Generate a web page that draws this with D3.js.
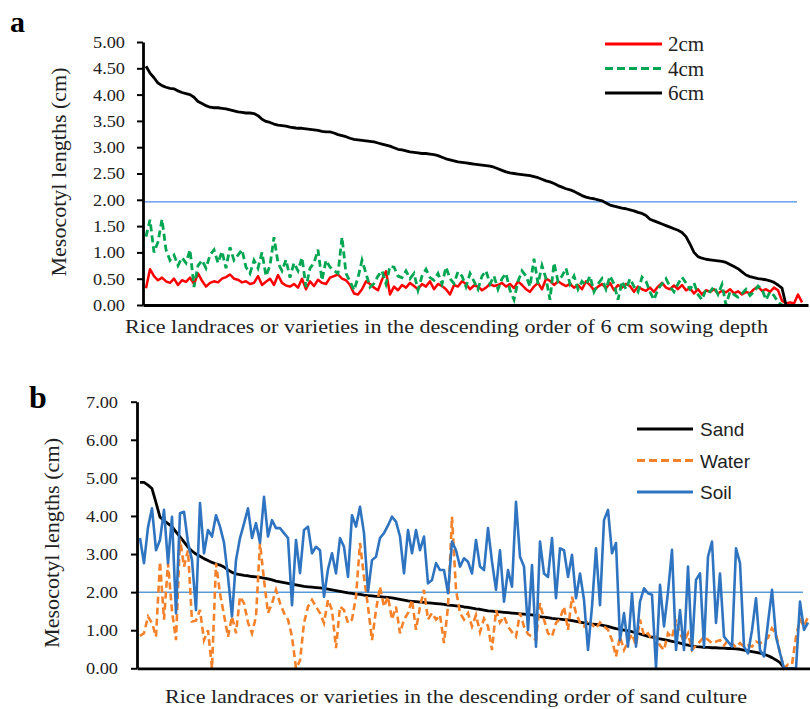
<!DOCTYPE html>
<html><head><meta charset="utf-8">
<script src="https://cdn.jsdelivr.net/npm/d3@7"></script>
<style>body{margin:0;background:#fff}svg{display:block}</style>
</head><body>
<svg id="c" width="810" height="709"></svg>
<script>
// ---------- Panel a data ----------
const seriesA = ["2cm", "4cm", "6cm"];
const yTicksA = [0, 0.5, 1, 1.5, 2, 2.5, 3, 3.5, 4, 4.5, 5];
const refA = 1.96;
const a2cm = [0.32,0.68,0.55,0.47,0.52,0.45,0.42,0.50,0.38,0.47,0.44,0.52,0.40,0.60,0.46,0.35,0.42,0.45,0.43,0.50,
0.53,0.58,0.50,0.48,0.43,0.45,0.40,0.42,0.55,0.38,0.44,0.50,0.38,0.57,0.42,0.37,0.35,0.40,0.33,0.50,
0.30,0.45,0.36,0.48,0.42,0.40,0.52,0.55,0.58,0.50,0.47,0.38,0.22,0.20,0.30,0.45,0.40,0.33,0.28,0.48,
0.64,0.20,0.35,0.28,0.38,0.33,0.42,0.36,0.30,0.40,0.35,0.45,0.30,0.40,0.36,0.30,0.20,0.38,0.35,0.45,
0.40,0.30,0.37,0.35,0.28,0.33,0.40,0.36,0.38,0.42,0.35,0.40,0.32,0.45,0.38,0.30,0.25,0.35,0.42,0.30,
0.50,0.46,0.38,0.45,0.40,0.36,0.40,0.33,0.38,0.30,0.45,0.38,0.28,0.35,0.40,0.32,0.42,0.28,0.38,0.33,
0.40,0.36,0.25,0.35,0.30,0.27,0.33,0.25,0.35,0.42,0.33,0.30,0.37,0.30,0.38,0.28,0.32,0.22,0.30,0.20,
0.28,0.25,0.30,0.22,0.27,0.24,0.30,0.22,0.26,0.20,0.25,0.22,0.30,0.35,0.27,0.30,0.25,0.33,0.28,0.08,
0.03,0.05,0.03,0.20,0.05];
const a4cm = [1.30,1.62,1.00,1.20,1.63,1.05,0.85,0.95,0.75,0.90,0.80,1.05,0.34,0.75,0.85,0.70,0.95,1.05,0.80,1.02,
0.70,1.10,0.85,0.95,1.05,0.72,0.60,0.85,0.70,1.00,0.55,0.75,1.29,0.80,0.65,0.86,0.52,0.80,0.65,0.90,
0.34,0.70,0.80,1.05,0.47,0.85,0.72,0.65,0.60,1.29,0.60,0.45,0.28,0.52,0.85,0.60,0.34,0.41,0.55,0.65,
0.40,0.74,0.72,0.55,0.52,0.65,0.50,0.60,0.28,0.55,0.68,0.52,0.47,0.60,0.40,0.72,0.50,0.41,0.63,0.55,
0.35,0.60,0.45,0.30,0.55,0.65,0.40,0.55,0.30,0.50,0.60,0.28,0.10,0.45,0.65,0.55,0.35,0.88,0.40,0.75,
0.50,0.10,0.80,0.45,0.55,0.70,0.40,0.55,0.30,0.45,0.38,0.55,0.25,0.40,0.50,0.30,0.55,0.40,0.10,0.45,
0.30,0.50,0.35,0.25,0.53,0.45,0.25,0.10,0.30,0.40,0.50,0.35,0.25,0.40,0.53,0.42,0.30,0.42,0.20,0.10,
0.30,0.25,0.35,0.20,0.39,0.00,0.25,0.20,0.15,0.22,0.30,0.18,0.25,0.36,0.30,0.10,0.25,0.18,0.05,0.00];
const a6cm = [4.54,4.41,4.32,4.22,4.17,4.14,4.12,4.11,4.07,4.04,4.02,4.00,3.95,3.87,3.83,3.79,3.76,3.75,3.75,3.74,
3.73,3.71,3.69,3.67,3.66,3.65,3.65,3.64,3.60,3.53,3.49,3.47,3.44,3.42,3.41,3.40,3.38,3.37,3.36,3.36,
3.35,3.34,3.33,3.32,3.30,3.29,3.29,3.27,3.24,3.22,3.20,3.17,3.15,3.14,3.13,3.12,3.11,3.10,3.08,3.06,
3.04,3.02,2.99,2.96,2.95,2.93,2.91,2.90,2.89,2.88,2.88,2.87,2.86,2.84,2.81,2.78,2.76,2.74,2.72,2.71,
2.70,2.69,2.68,2.67,2.66,2.65,2.64,2.62,2.59,2.56,2.53,2.51,2.50,2.49,2.48,2.47,2.46,2.44,2.42,2.39,
2.36,2.34,2.31,2.27,2.24,2.21,2.19,2.16,2.12,2.08,2.05,2.03,2.02,2.00,1.98,1.94,1.90,1.88,1.86,1.84,
1.83,1.81,1.79,1.76,1.74,1.70,1.63,1.60,1.57,1.54,1.51,1.48,1.45,1.42,1.38,1.30,1.16,1.00,0.92,0.89,
0.87,0.86,0.85,0.84,0.83,0.81,0.77,0.73,0.69,0.63,0.57,0.54,0.52,0.50,0.49,0.48,0.46,0.43,0.38,0.32,
0.00];

// ---------- Panel b data ----------
const seriesB = ["Sand", "Water", "Soil"];
const yTicksB = [0, 1, 2, 3, 4, 5, 6, 7];
const refB = 2.0;
const bSand = [4.88,4.88,4.81,4.72,4.35,3.97,3.88,3.80,3.72,3.58,3.45,3.32,3.18,3.08,3.00,2.94,2.88,2.83,2.78,2.74,
2.71,2.66,2.58,2.52,2.48,2.46,2.44,2.43,2.41,2.40,2.39,2.37,2.35,2.32,2.29,2.27,2.25,2.23,2.21,2.19,
2.17,2.15,2.14,2.13,2.12,2.11,2.10,2.08,2.06,2.04,2.02,2.00,1.98,1.97,1.95,1.94,1.92,1.91,1.90,1.89,
1.88,1.87,1.86,1.85,1.83,1.81,1.79,1.77,1.76,1.75,1.74,1.73,1.72,1.71,1.70,1.69,1.68,1.66,1.65,1.64,
1.63,1.61,1.60,1.58,1.56,1.55,1.53,1.51,1.50,1.49,1.48,1.47,1.46,1.45,1.44,1.43,1.42,1.41,1.40,1.38,
1.36,1.34,1.33,1.31,1.30,1.29,1.28,1.27,1.25,1.23,1.21,1.19,1.17,1.16,1.15,1.14,1.12,1.10,1.07,1.04,
1.02,1.00,0.98,0.96,0.93,0.90,0.87,0.84,0.82,0.80,0.77,0.75,0.73,0.71,0.69,0.66,0.63,0.61,0.59,0.57,
0.56,0.55,0.55,0.54,0.54,0.53,0.53,0.52,0.52,0.51,0.50,0.48,0.46,0.44,0.42,0.40,0.37,0.33,0.28,0.22,
0.15,0.02,0.00];
const bWater = [0.85,0.92,1.36,1.19,0.83,2.80,1.28,2.76,1.50,0.74,3.40,2.67,3.10,1.23,1.25,1.53,0.74,1.00,0.00,2.76,
1.97,1.40,0.83,1.36,0.92,1.88,1.71,1.20,0.92,1.36,3.29,2.32,1.45,1.70,2.06,1.71,1.45,1.28,0.83,0.00,
0.20,1.19,1.62,1.80,1.62,1.45,1.19,1.80,1.53,0.53,1.62,1.53,1.19,1.28,1.88,3.29,2.40,1.62,0.74,1.53,
2.14,1.62,1.88,1.28,1.62,0.92,1.28,1.45,1.80,1.01,1.62,2.06,1.28,1.45,1.28,1.40,0.66,1.62,3.98,2.06,
1.45,1.28,1.45,1.10,1.40,0.95,1.30,1.10,0.48,1.53,1.20,1.36,1.10,0.95,0.83,1.45,1.10,0.90,0.83,0.74,
1.71,1.28,0.92,0.83,1.19,1.30,1.62,1.01,1.88,1.45,1.20,1.10,1.28,1.15,1.05,1.20,1.10,1.01,0.74,0.31,
0.83,0.48,0.70,0.90,0.60,1.28,0.85,0.92,0.75,0.83,0.60,0.48,0.92,0.80,1.28,0.92,0.70,0.92,0.48,0.60,
0.70,0.83,0.75,0.66,0.70,0.74,0.60,0.74,0.66,0.55,0.66,0.57,0.60,0.57,0.70,0.65,0.74,0.80,1.05,0.90,
0.40,0.00,0.10,0.10,0.83,1.28,1.10,1.36];
const bSoil = [3.42,2.76,3.70,4.20,3.10,3.37,4.16,2.76,3.98,1.45,4.07,4.11,3.30,2.84,1.53,4.34,3.02,3.63,3.46,4.02,
3.72,3.30,2.40,1.36,2.84,3.42,3.80,4.20,3.42,3.81,3.30,4.50,3.46,3.89,3.68,3.68,3.55,3.42,1.66,3.37,
2.50,3.63,3.72,3.02,3.19,3.10,1.88,2.60,3.02,2.49,3.42,3.19,2.40,4.02,3.72,4.24,3.55,2.01,2.84,2.93,
3.42,3.55,3.75,3.98,3.85,3.46,2.49,3.63,3.02,3.63,3.10,3.46,2.23,2.32,2.76,2.58,2.58,1.97,3.33,3.10,
2.67,2.89,2.80,2.49,3.37,2.67,2.58,3.68,2.80,2.06,3.10,1.75,2.58,2.14,4.37,2.93,2.67,1.01,2.71,0.57,
3.33,2.49,2.40,3.42,1.84,3.15,3.10,2.40,2.98,1.84,2.49,1.80,0.48,1.62,3.15,1.66,3.89,4.16,3.02,3.29,
0.74,1.45,0.57,1.97,0.57,1.75,2.10,1.97,1.93,0.00,2.19,1.10,2.00,3.11,0.48,1.53,0.48,2.67,0.48,2.32,
2.49,0.57,2.93,3.33,1.19,2.49,0.83,0.70,0.57,3.15,2.76,0.57,0.39,1.00,1.84,0.48,0.31,1.20,2.06,0.83,
0.40,0.00,0.00,0.00,0.00,1.75,1.01,1.20];

const svg = d3.select("#c");
const serif = "'Liberation Serif','Times New Roman',serif";
const sans = "'Liberation Sans',Arial,sans-serif";
const fmt = d3.format(".2f");

function drawYAxis(g, y, ticks, x0, padding) {
  const ax = g.append("g").attr("transform", `translate(${x0},0)`)
    .call(d3.axisLeft(y).tickValues(ticks).tickFormat(fmt).tickSize(6).tickSizeOuter(0).tickPadding(padding));
  ax.select(".domain").attr("stroke", "#000").attr("stroke-width", 2.8);
  ax.selectAll(".tick line").attr("stroke", "#000").attr("stroke-width", 2);
  ax.selectAll(".tick text").attr("font-family", serif).attr("font-size", 17).attr("fill", "#222")
    .attr("textLength", 32).attr("lengthAdjust", "spacingAndGlyphs");
}
function drawXAxis(g, x0, x1, yPix) {
  const xs = d3.scaleLinear().range([x0, x1]);
  const ax = g.append("g").attr("transform", `translate(0,${yPix})`)
    .call(d3.axisBottom(xs).tickValues([]).tickSizeOuter(0));
  ax.select(".domain").attr("stroke", "#000").attr("stroke-width", 2.8);
}

// ---------- Panel a ----------
const gA = svg.append("g");
const yA = d3.scaleLinear().domain([0, 5]).range([305, 42]);
const xA = d3.scaleLinear().domain([0, 164]).range([146, 802]);
const lineA = d3.line().x((d, i) => xA(i)).y(d => yA(d));

gA.append("line").attr("x1", 143).attr("x2", 797).attr("y1", yA(refA)).attr("y2", yA(refA))
  .attr("stroke", "#4a8ae6").attr("stroke-width", 1.3);
gA.append("path").datum(a2cm).attr("d", lineA).attr("fill", "none").attr("stroke", "#ff0000").attr("stroke-width", 2.5).attr("stroke-linejoin", "round");
gA.append("path").datum(a4cm).attr("d", lineA).attr("fill", "none").attr("stroke", "#00a651").attr("stroke-width", 2.8).attr("stroke-dasharray", "7,4");
gA.append("path").datum(a6cm).attr("d", lineA).attr("fill", "none").attr("stroke", "#000").attr("stroke-width", 2.8).attr("stroke-linejoin", "round");

drawYAxis(gA, yA, yTicksA, 143, 12);
drawXAxis(gA, 143, 808, 305);

gA.append("text").attr("transform", "translate(66,172) rotate(-90)").attr("text-anchor", "middle")
  .attr("font-family", serif).attr("font-size", 21).attr("fill", "#222")
  .attr("textLength", 209).attr("lengthAdjust", "spacingAndGlyphs").text("Mesocotyl lengths (cm)");
gA.append("text").attr("x", 125).attr("y", 333).attr("font-family", serif).attr("font-size", 19).attr("fill", "#222")
  .attr("textLength", 643).attr("lengthAdjust", "spacingAndGlyphs")
  .text("Rice landraces or varieties in the descending order of 6 cm sowing depth");
gA.append("text").attr("x", 10).attr("y", 32).attr("font-family", serif).attr("font-size", 30).attr("font-weight", "bold").text("a");

const legA = [{c:"#ff0000", d:null, w:2.8}, {c:"#00a651", d:"8,4", w:3}, {c:"#000", d:null, w:3}];
seriesA.forEach((s, i) => {
  const yy = 44 + i * 24.5;
  gA.append("line").attr("x1", 605).attr("x2", 662).attr("y1", yy).attr("y2", yy)
    .attr("stroke", legA[i].c).attr("stroke-width", legA[i].w).attr("stroke-dasharray", legA[i].d);
  gA.append("text").attr("x", 668).attr("y", yy + 7).attr("font-family", serif).attr("font-size", 21).attr("fill", "#222").text(s);
});

// ---------- Panel b ----------
const gB = svg.append("g");
const yB = d3.scaleLinear().domain([0, 7]).range([668.3, 401.7]);
const xB = d3.scaleLinear().domain([0, 167]).range([140, 808]);
const lineB = d3.line().x((d, i) => xB(i)).y(d => yB(d));

gB.append("line").attr("x1", 137).attr("x2", 803).attr("y1", yB(refB)).attr("y2", yB(refB))
  .attr("stroke", "#5b9bd5").attr("stroke-width", 1.5);
gB.append("path").datum(bSand).attr("d", lineB).attr("fill", "none").attr("stroke", "#000").attr("stroke-width", 2.8).attr("stroke-linejoin", "round");
gB.append("path").datum(bWater).attr("d", lineB).attr("fill", "none").attr("stroke", "#f5822a").attr("stroke-width", 2.6).attr("stroke-dasharray", "7,4");
gB.append("path").datum(bSoil).attr("d", lineB).attr("fill", "none").attr("stroke", "#2e74c0").attr("stroke-width", 2.6).attr("stroke-linejoin", "round");

drawYAxis(gB, yB, yTicksB, 137, 13);
drawXAxis(gB, 137, 810, 668.3);

gB.append("text").attr("transform", "translate(59,543) rotate(-90)").attr("text-anchor", "middle")
  .attr("font-family", serif).attr("font-size", 21).attr("fill", "#222")
  .attr("textLength", 210).attr("lengthAdjust", "spacingAndGlyphs").text("Mesocotyl lengths (cm)");
gB.append("text").attr("x", 165).attr("y", 703).attr("font-family", serif).attr("font-size", 19).attr("fill", "#222")
  .attr("textLength", 582).attr("lengthAdjust", "spacingAndGlyphs")
  .text("Rice landraces or varieties in the descending order of sand culture");
gB.append("text").attr("x", 29).attr("y", 408).attr("font-family", serif).attr("font-size", 32).attr("font-weight", "bold").text("b");

const legB = [{c:"#000", d:null}, {c:"#f5822a", d:"8,4"}, {c:"#2e74c0", d:null}];
seriesB.forEach((s, i) => {
  const yy = 429 + i * 31.5;
  gB.append("line").attr("x1", 637).attr("x2", 693).attr("y1", yy).attr("y2", yy)
    .attr("stroke", legB[i].c).attr("stroke-width", 3).attr("stroke-dasharray", legB[i].d);
  gB.append("text").attr("x", 700).attr("y", yy + 7).attr("font-family", sans).attr("font-size", 19).attr("fill", "#222").text(s);
});
</script>
</body></html>
